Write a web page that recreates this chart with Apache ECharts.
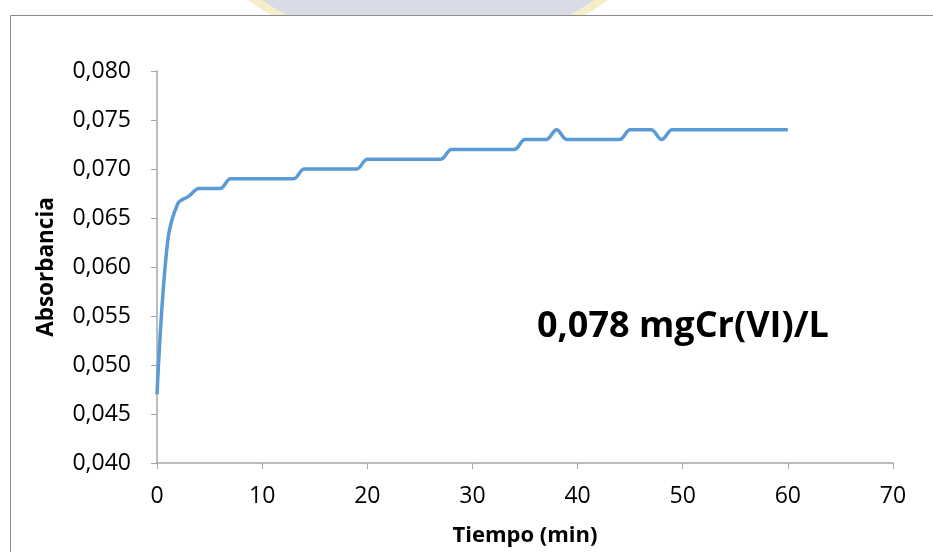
<!DOCTYPE html>
<html>
<head>
<meta charset="utf-8">
<script src="https://cdn.jsdelivr.net/npm/echarts@6/dist/echarts.min.js"></script>
<style>
  html, body { margin: 0; padding: 0; background: #fff; }
  #chart { width: 933px; height: 552px; }
</style>
</head>
<body>
<div id="chart"></div>
<script>
// tiempo (min) y absorbancia
var tiempo = [0, 1, 2, 3, 4, 5, 6, 7, 8, 9, 10, 11, 12, 13, 14, 15, 16, 17, 18, 19, 20,
    21, 22, 23, 24, 25, 26, 27, 28, 29, 30, 31, 32, 33, 34, 35, 36, 37, 38, 39, 40,
    41, 42, 43, 44, 45, 46, 47, 48, 49, 50, 51, 52, 53, 54, 55, 56, 57, 58, 59, 60];
var absorbancia = [0.047, 0.0625, 0.0665, 0.0672, 0.068, 0.068, 0.068, 0.069, 0.069, 0.069, 0.069,
    0.069, 0.069, 0.069, 0.070, 0.070, 0.070, 0.070, 0.070, 0.070, 0.071,
    0.071, 0.071, 0.071, 0.071, 0.071, 0.071, 0.071, 0.072, 0.072, 0.072,
    0.072, 0.072, 0.072, 0.072, 0.073, 0.073, 0.073, 0.074, 0.073, 0.073,
    0.073, 0.073, 0.073, 0.073, 0.074, 0.074, 0.074, 0.073, 0.074, 0.074,
    0.074, 0.074, 0.074, 0.074, 0.074, 0.074, 0.074, 0.074, 0.074, 0.074];
var etiqueta = "0,078 mgCr(VI)/L";

var chart = echarts.init(document.getElementById('chart'));

var puntos = tiempo.map(function (t, i) { return [t, absorbancia[i]]; });
var fuente = "'Open Sans', 'Liberation Sans', sans-serif";

var options = {
    animation: false,
    backgroundColor: '#fff',
    graphic: [
        // logo de fondo (marca de agua), solo asoma arriba
        {
            type: 'circle', z: -10,
            shape: { cx: 428, cy: -245, r: 300 },
            style: { fill: '#D9DBE6', stroke: '#F6EECB', lineWidth: 8 }
        },
        {
            type: 'rect', z: -5,
            shape: { x: 10.5, y: 15.5, width: 1000, height: 600 },
            style: { fill: '#fff', stroke: '#8C8C8C', lineWidth: 1 }
        },
        {
            type: 'text', left: 537, top: 309,
            style: {
                text: etiqueta,
                font: "bold 36px " + fuente,
                fill: '#000'
            }
        }
    ],
    grid: { left: 157, right: 40, top: 71, bottom: 88 },
    xAxis: {
        type: 'value',
        min: 0, max: 70, interval: 10,
        name: 'Tiempo (min)',
        nameLocation: 'middle',
        nameGap: 62,
        nameTextStyle: { fontFamily: fuente, fontWeight: 'bold', fontSize: 22, color: '#000' },
        axisLine: { lineStyle: { color: '#A6A6A6', width: 1.5 } },
        axisTick: { show: true, length: 6, lineStyle: { color: '#A6A6A6' } },
        axisLabel: { fontFamily: fuente, fontSize: 23, color: '#000', margin: 22 },
        splitLine: { show: false }
    },
    yAxis: {
        type: 'value',
        min: 0.040, max: 0.080, interval: 0.005,
        name: 'Absorbancia',
        nameLocation: 'middle',
        nameGap: 99,
        nameRotate: 90,
        nameTextStyle: { fontFamily: fuente, fontWeight: 'bold', fontSize: 22.5, color: '#000' },
        axisLine: { show: true, lineStyle: { color: '#A6A6A6', width: 1.5 } },
        axisTick: { show: true, length: 6, lineStyle: { color: '#A6A6A6' } },
        axisLabel: {
            fontFamily: fuente, fontSize: 23, color: '#000', margin: 26,
            formatter: function (v) { return v.toFixed(3).replace('.', ','); }
        },
        splitLine: { show: false }
    },
    series: [
        {
            type: 'line',
            data: puntos,
            smooth: 0.35,
            showSymbol: false,
            lineStyle: { color: '#5B9BD5', width: 3.5 },
            itemStyle: { color: '#5B9BD5' }
        }
    ]
};

chart.setOption(options);
</script>
</body>
</html>
